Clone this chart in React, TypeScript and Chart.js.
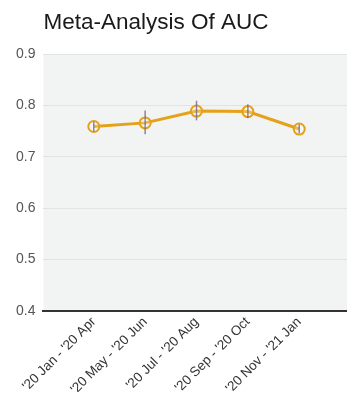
import React, { useEffect, useRef } from "react";
import { Chart, registerables } from "chart.js";

Chart.register(...registerables);

const categories = [
  "'20 Jan - '20 Apr",
  "'20 May - '20 Jun",
  "'20 Jul - '20 Aug",
  "'20 Sep - '20 Oct",
  "'20 Nov - '21 Jan",
];
const aucValues = [0.759, 0.766, 0.789, 0.788, 0.754];
const errLow = [0.749, 0.744, 0.771, 0.775, 0.746];
const errHigh = [0.768, 0.790, 0.809, 0.802, 0.763];
const yTicks = [0.4, 0.5, 0.6, 0.7, 0.8, 0.9];

const FONT = "Liberation Sans, Arial, sans-serif";

const bgPlugin = {
  id: "plotBg",
  beforeDraw(chart: any) {
    const { ctx, chartArea } = chart;
    ctx.save();
    ctx.fillStyle = "#f2f3f3";
    ctx.fillRect(chartArea.left, chartArea.top, chartArea.right - chartArea.left, chartArea.bottom - chartArea.top);
    ctx.restore();
  },
};

const errPlugin = {
  id: "errBars",
  afterDatasetsDraw(chart: any) {
    const { ctx } = chart;
    const xs = chart.scales.x;
    const ys = chart.scales.y;
    ctx.save();
    ctx.strokeStyle = "rgba(110,95,140,0.75)";
    ctx.lineWidth = 1.5;
    for (let i = 0; i < aucValues.length; i++) {
      const x = xs.getPixelForValue(i);
      ctx.beginPath();
      ctx.moveTo(x, ys.getPixelForValue(errLow[i]));
      ctx.lineTo(x, ys.getPixelForValue(errHigh[i]));
      ctx.stroke();
    }
    ctx.restore();
  },
};

export default function App() {
  const ref = useRef<HTMLCanvasElement>(null);
  useEffect(() => {
    document.body.style.margin = "0";
    document.body.style.overflow = "hidden";
    const chart = new Chart(ref.current!, {
      type: "line",
      data: {
        datasets: [
          {
            data: aucValues.map((v, i) => ({ x: i, y: v })),
            borderColor: "#e5a117",
            borderWidth: 3,
            pointRadius: 5.5,
            pointBorderWidth: 2,
            pointBorderColor: "#e5a117",
            pointBackgroundColor: "rgba(255,255,255,0.25)",
            tension: 0,
          },
        ],
      },
      options: {
        animation: false,
        responsive: false,
        layout: { autoPadding: false, padding: { left: 8, right: 0, top: 9, bottom: 0 } },
        plugins: {
          legend: { display: false },
          tooltip: { enabled: false },
          title: {
            display: true,
            text: "Meta-Analysis Of AUC",
            align: "start",
            fullSize: false,
            color: "#1a1a1a",
            font: { family: FONT, size: 22.5, weight: "normal" },
            padding: { top: 0, bottom: 18 },
          },
        },
        scales: {
          x: {
            type: "linear",
            min: -0.98,
            max: 4.93,
            afterBuildTicks(scale: any) {
              scale.ticks = categories.map((_, i) => ({ value: i }));
            },
            afterFit(scale: any) {
              scale.height = 93;
              scale.paddingRight = 0;
              scale.paddingLeft = 0;
            },
            ticks: {
              callback: (v: any) => categories[v as number] ?? "",
              minRotation: 45,
              maxRotation: 45,
              color: "#333",
              padding: 3,
              font: { family: FONT, size: 13.5 },
            },
            grid: { display: false, drawTicks: false },
            border: { display: true, color: "#333", width: 2 },
          },
          y: {
            min: 0.4,
            max: 0.9,
            afterBuildTicks(scale: any) {
              scale.ticks = yTicks.map((v) => ({ value: v }));
            },
            ticks: {
              callback: (v: any) => Number(v).toFixed(1),
              color: "#555",
              padding: 8,
              font: { family: FONT, size: 14 },
            },
            grid: { color: "#e2e4e4", lineWidth: 1, drawTicks: false },
            border: { display: false },
          },
        },
      },
      plugins: [bgPlugin, errPlugin],
    });
    return () => chart.destroy();
  }, []);
  return (
    <div style={{ width: 347, height: 404 }}>
      <canvas ref={ref} width={347} height={404} style={{ display: "block" }} />
    </div>
  );
}
